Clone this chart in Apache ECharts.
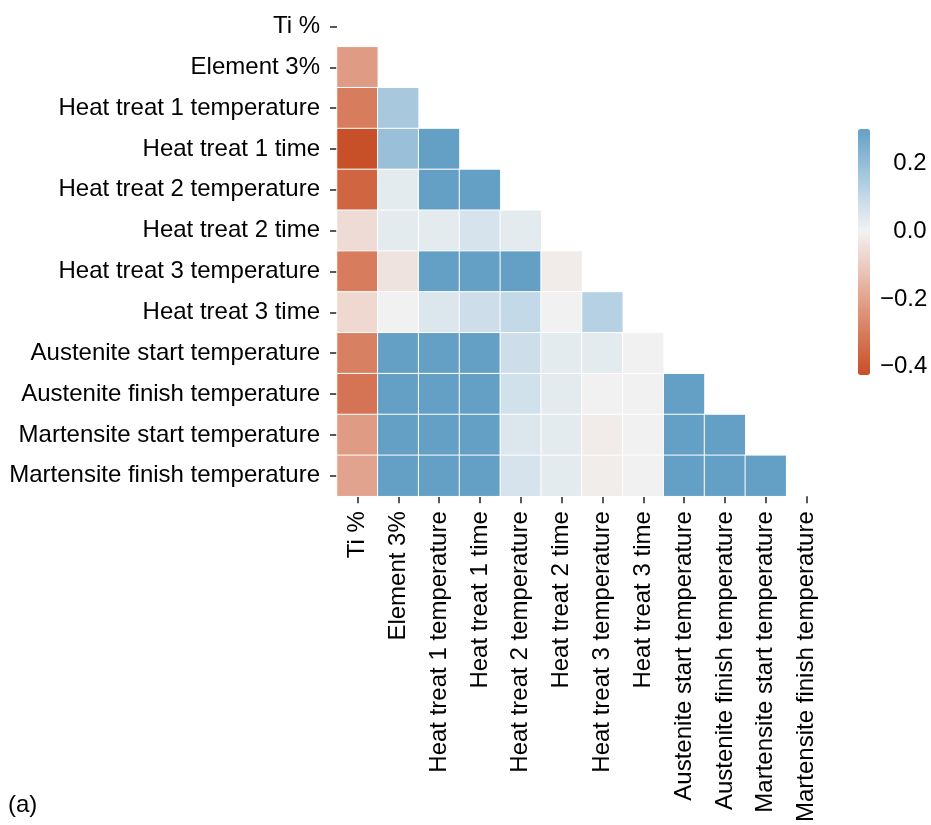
<!DOCTYPE html>
<html>
<head>
<meta charset="utf-8">
<script src="https://cdn.jsdelivr.net/npm/echarts@6/dist/echarts.min.js"></script>
<style>
html,body{margin:0;padding:0;background:#fff;}
#chart{width:931px;height:825px;}
</style>
</head>
<body>
<div id="chart"></div>
<script>
// ---- data ----
const categories = [
  'Ti %', 'Element 3%', 'Heat treat 1 temperature', 'Heat treat 1 time',
  'Heat treat 2 temperature', 'Heat treat 2 time', 'Heat treat 3 temperature',
  'Heat treat 3 time', 'Austenite start temperature', 'Austenite finish temperature',
  'Martensite start temperature', 'Martensite finish temperature'
];
// lower-triangle correlations, row i holds columns 0..i-1 (values >= 0.3 are shown saturated)
const rowElement3 = [-0.22];
const rowHT1Temp  = [-0.30, 0.16];
const rowHT1Time  = [-0.42, 0.19, 0.30];
const rowHT2Temp  = [-0.36, 0.03, 0.30, 0.30];
const rowHT2Time  = [-0.06, 0.03, 0.03, 0.06, 0.03];
const rowHT3Temp  = [-0.30, -0.04, 0.30, 0.30, 0.30, -0.02];
const rowHT3Time  = [-0.07, 0.00, 0.05, 0.08, 0.10, 0.00, 0.13];
const rowAusStart = [-0.29, 0.30, 0.30, 0.30, 0.08, 0.03, 0.03, 0.00];
const rowAusFin   = [-0.32, 0.30, 0.30, 0.30, 0.07, 0.03, 0.00, 0.00, 0.30];
const rowMarStart = [-0.22, 0.30, 0.30, 0.30, 0.05, 0.03, -0.02, 0.00, 0.30, 0.30];
const rowMarFin   = [-0.20, 0.30, 0.30, 0.30, 0.06, 0.03, -0.015, 0.00, 0.30, 0.30, 0.30];
const colorbarTicks = [-0.4, -0.2, 0.0, 0.2];
const vMin = -0.424, vMax = 0.30;

const rows = [[], rowElement3, rowHT1Temp, rowHT1Time, rowHT2Temp, rowHT2Time,
  rowHT3Temp, rowHT3Time, rowAusStart, rowAusFin, rowMarStart, rowMarFin];
const heatData = [];
rows.forEach((r, i) => r.forEach((v, j) => heatData.push([j, i, v])));

// ---- diverging colormap (centered at 0) ----
const anchors = [
  [-0.424, [200, 78, 38]],
  [-0.30, [215, 124, 93]],
  [-0.20, [226, 163, 142]],
  [-0.10, [236, 204, 194]],
  [0.00, [242, 242, 242]],
  [0.10, [196, 217, 232]],
  [0.20, [148, 188, 215]],
  [0.30, [100, 160, 198]]
];
function cmap(v) {
  for (let k = 0; k < anchors.length - 1; k++) {
    const [a, ca] = anchors[k], [b, cb] = anchors[k + 1];
    if (v <= b || k === anchors.length - 2) {
      const t = Math.max(0, Math.min(1, (v - a) / (b - a)));
      const c = ca.map((x, n) => Math.round(x + (cb[n] - x) * t));
      return 'rgb(' + c.join(',') + ')';
    }
  }
}
const nStops = 73;
const stopColors = [];
for (let k = 0; k < nStops; k++) stopColors.push(cmap(vMin + (vMax - vMin) * k / (nStops - 1)));

const FONT = 'Liberation Sans, Arial, sans-serif';
const FS = 24;

const chart = echarts.init(document.getElementById('chart'));
chart.setOption({
  animation: false,
  backgroundColor: '#fff',
  textStyle: { fontFamily: FONT },
  title: {
    text: '(a)', left: 3, top: 788,
    textStyle: { fontFamily: FONT, fontSize: FS, fontWeight: 'normal', color: '#000' }
  },
  grid: [
    { left: 337, top: 6, width: 490, height: 491 },
    { left: 858, top: 129, width: 12, height: 246 }
  ],
  xAxis: [
    {
      type: 'category', data: categories, gridIndex: 0, position: 'bottom',
      axisLine: { show: false },
      axisTick: { show: true, alignWithLabel: true, length: 7, lineStyle: { color: '#222', width: 1.5 } },
      axisLabel: { rotate: 90, interval: 0, margin: 15, fontSize: FS, color: '#000', fontFamily: FONT },
      splitLine: { show: false }
    },
    { type: 'value', gridIndex: 1, show: false, min: 0, max: 1 }
  ],
  yAxis: [
    {
      type: 'category', data: categories, gridIndex: 0, inverse: true,
      axisLine: { show: false },
      axisTick: { show: true, alignWithLabel: true, length: 7, lineStyle: { color: '#222', width: 1.5 } },
      axisLabel: { interval: 0, margin: 17, fontSize: FS, color: '#000', fontFamily: FONT },
      splitLine: { show: false }
    },
    {
      type: 'value', gridIndex: 1, position: 'right', min: vMin, max: vMax,
      axisLine: { show: false },
      splitLine: { show: false },
      axisTick: { show: true, length: 6, customValues: colorbarTicks, lineStyle: { color: '#222', width: 1.5 } },
      axisLabel: {
        customValues: colorbarTicks, margin: 10, fontSize: FS, color: '#000', fontFamily: FONT,
        align: 'left',
        formatter: v => (v < 0 ? '\u2212' + Math.abs(v).toFixed(1) : '\u2007' + v.toFixed(1))
      }
    }
  ],
  visualMap: {
    type: 'continuous', seriesIndex: 0, min: vMin, max: vMax,
    orient: 'vertical', left: 858, top: 129, itemWidth: 12, itemHeight: 246,
    padding: 0, calculable: false, text: null, hoverLink: false,
    inRange: { color: stopColors }
  },
  series: [
    {
      type: 'heatmap', xAxisIndex: 0, yAxisIndex: 0, data: heatData,
      itemStyle: { borderColor: '#fff', borderWidth: 1 },
      emphasis: { disabled: true }, silent: true
    }
  ]
});
</script>
</body>
</html>
